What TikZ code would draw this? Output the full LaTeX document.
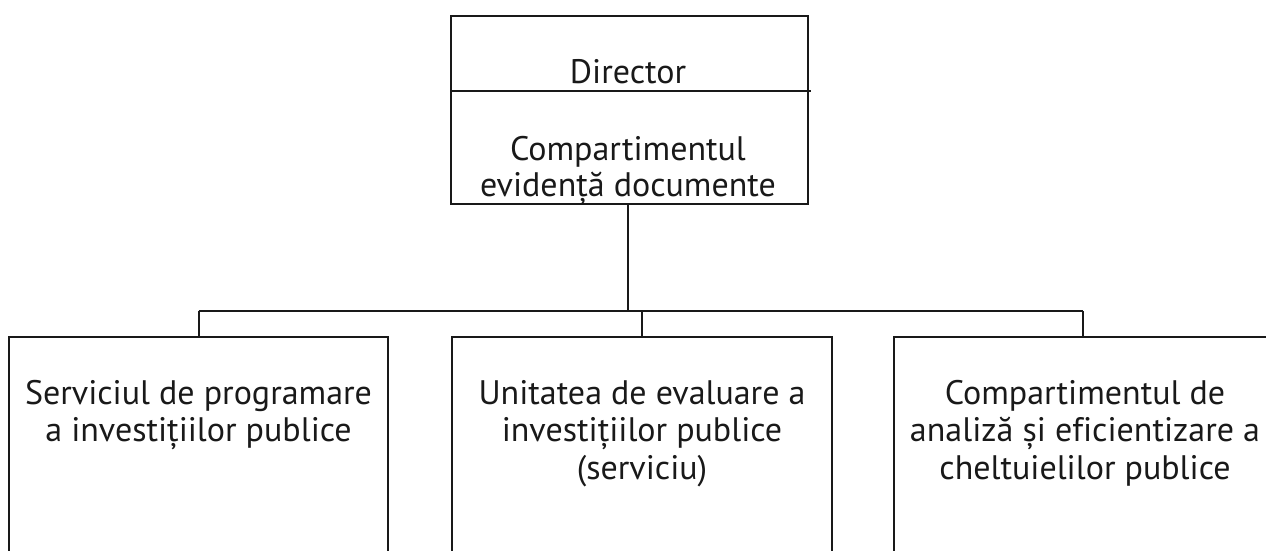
\documentclass[tikz,border=0pt]{standalone}
\usepackage{fontspec}
\setmainfont[Ligatures=CommonOff]{PT Sans}
\begin{document}
\begin{tikzpicture}[x=1pt,y=-1pt,
  line width=2pt, draw=black!90,
  box/.style={draw, rectangle, inner sep=0pt, anchor=north west},
  lbl/.style={inner sep=0pt, align=center, text=black!90, font=\fontsize{34}{37.5}\selectfont}]
\useasboundingbox (0,0) rectangle (1266,551);
\clip (0,0) rectangle (1266,551);
% top box
\node[box, minimum width=357pt, minimum height=188pt] (dir) at (450,15) {};
\coordinate (divL) at (450,91);
\coordinate (divR) at (811,91);
\draw (divL) -- (divR);
\node[lbl, anchor=base] (dirt) at (628,83) {Director};
\node[lbl, anchor=base] (comp) at (628,160) {Compartimentul};
\node[lbl, anchor=base] (evid) at (628,196) {evidență documente};
% bottom boxes
\node[box, minimum width=379pt, minimum height=240pt] (b1) at (8,336) {};
\node[box, minimum width=380pt, minimum height=240pt] (b2) at (451,336) {};
\node[box, minimum width=384pt, minimum height=240pt] (b3) at (893,336) {};
\node[lbl, anchor=north] (t1) at (b1.north |- 0,379) {Serviciul de programare\\a investițiilor publice};
\node[lbl, anchor=north] (t2) at (b2.north |- 0,379) {Unitatea de evaluare a\\investițiilor publice\\(serviciu)};
\node[lbl, anchor=north] (t3) at (1085,379) {Compartimentul de\\analiză și eficientizare a\\cheltuielilor publice};
% connectors
\coordinate (bus) at (628,311);
\coordinate (busL) at (b1.north |- bus);
\coordinate (busM) at (b2.north |- bus);
\coordinate (busR) at (1083,311);
\draw (dir.south -| bus) -- (bus);
\draw (busL) -- (busR);
\draw (busL) -- (b1.north);
\draw (busM) -- (b2.north);
\draw (busR) -- (busR |- b3.north);
\end{tikzpicture}
\end{document}
